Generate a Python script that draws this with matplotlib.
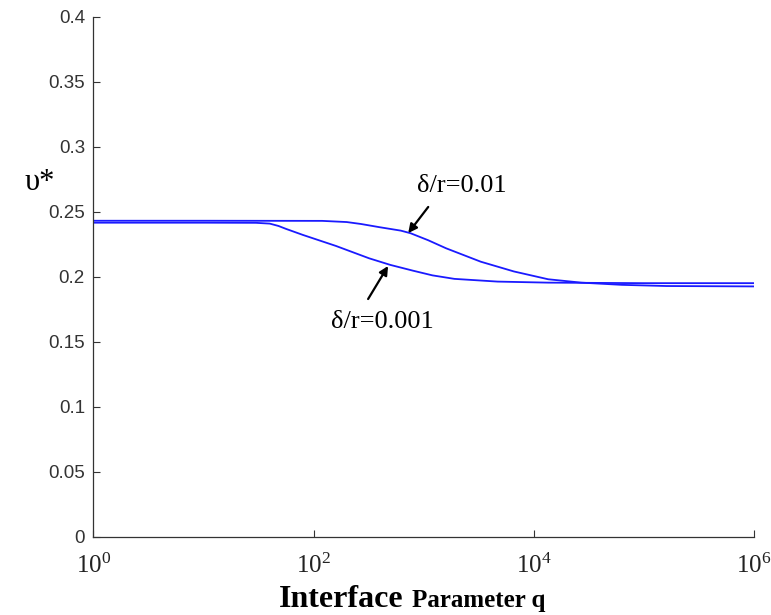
import numpy as np
import matplotlib
import matplotlib.pyplot as plt

# data (q on log axis, v* on linear axis)
q_001 = [1, 10, 30, 40, 48, 56, 80, 160, 320, 500, 800, 1200, 1900, 4700, 13500,
         100000, 1000000]
v_001 = [0.2415, 0.2415, 0.2414, 0.2408, 0.2390, 0.2368, 0.2321, 0.2236, 0.2141,
         0.2090, 0.2046, 0.2010, 0.1983, 0.1962, 0.1954, 0.1950, 0.1950]

q_01 = [1, 10, 120, 200, 270, 400, 620, 760, 1100, 1600, 3300, 6600, 13500, 27000,
        63000, 160000, 1000000]
v_01 = [0.2430, 0.2430, 0.2429, 0.2420, 0.2405, 0.2380, 0.2354, 0.2334, 0.2280,
        0.2218, 0.2115, 0.2040, 0.1980, 0.1954, 0.1937, 0.1928, 0.1925]

yticks = [0, 0.05, 0.1, 0.15, 0.2, 0.25, 0.3, 0.35, 0.4]
ytick_labels = ["0", "0.05", "0.1", "0.15", "0.2", "0.25", "0.3", "0.35", "0.4"]
xticks = [1, 100, 10000, 1000000]
xtick_labels = [r"$10^{0}$", r"$10^{2}$", r"$10^{4}$", r"$10^{6}$"]

plt.rcParams["mathtext.fontset"] = "custom"
plt.rcParams["mathtext.rm"] = "Liberation Serif"
plt.rcParams["mathtext.it"] = "Liberation Serif:italic"

fig = plt.figure(figsize=(7.71, 6.15), dpi=100)
ax = fig.add_axes([0.121, 0.1273, 0.857, 0.8457])

line_col = "#1a1aff"
ax.plot(q_01, v_01, "-", color=line_col, linewidth=1.3)
ax.plot(q_001, v_001, "-", color=line_col, linewidth=1.3)

ax.set_xscale("log")
ax.set_xlim(1, 1e6)
ax.set_ylim(0, 0.4)

ax.set_yticks(yticks)
ax.set_yticklabels(ytick_labels, family="Liberation Sans", fontsize=13.5, color="#333333")
ax.set_xticks(xticks)
ax.set_xticklabels(xtick_labels, fontsize=18)
ax.xaxis.set_minor_locator(matplotlib.ticker.NullLocator())
ax.tick_params(axis="both", direction="in", length=5, width=0.8, colors="#333333")
ax.tick_params(axis="y", pad=6)
ax.tick_params(axis="x", pad=12, labelcolor="#222222")

for side in ["top", "right"]:
    ax.spines[side].set_visible(False)
for side in ["left", "bottom"]:
    ax.spines[side].set_color("#333333")
    ax.spines[side].set_linewidth(0.9)

# labels on the curves
ax.text(2230, 0.2698, "δ/r=0.01", fontsize=19, family="Liberation Serif",
        ha="center", va="center")
ax.text(420, 0.1651, "δ/r=0.001", fontsize=19, family="Liberation Serif",
        ha="center", va="center")
arrow = dict(arrowstyle="-|>", color="black", lw=1.6, mutation_scale=13,
             shrinkA=0, shrinkB=0)
ax.annotate("", xy=(724, 0.2335), xytext=(1100, 0.2536), arrowprops=arrow)
ax.annotate("", xy=(475, 0.2082), xytext=(313, 0.1828), arrowprops=arrow)

# axis labels
fig.text(0.052, 1 - 183 / 615, "υ*", fontsize=22, family="Liberation Serif",
         ha="center", va="center")
fig.text(341 / 771, 1 - 607 / 615, "Interface", fontsize=23, family="Liberation Serif",
         fontweight="bold", ha="center", va="baseline")
fig.text(479 / 771, 1 - 607 / 615, "Parameter q", fontsize=18, family="Liberation Serif",
         fontweight="bold", ha="center", va="baseline")

plt.savefig("out.png", dpi=100)
